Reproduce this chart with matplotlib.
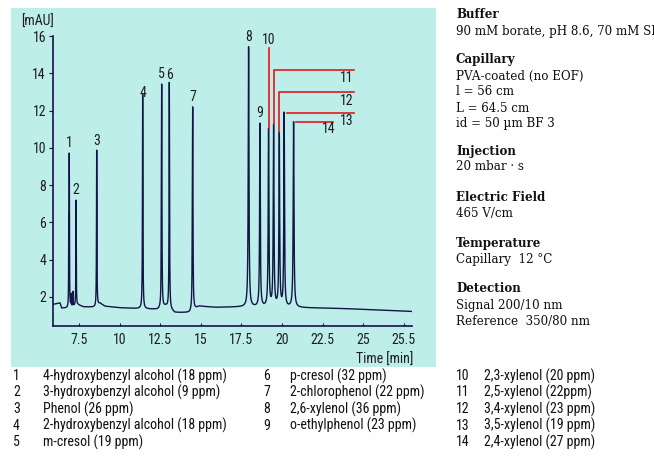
import numpy as np
import matplotlib
matplotlib.use('Agg')
from matplotlib import pyplot as plt
from matplotlib import font_manager
from matplotlib.patches import Rectangle

# peaks: migration time [min], apex [mAU], width [min]
peak_ids = [1, 2, 3, 4, 5, 6, 7, 8, 9, 10, 11, 12, 13, 14]
peak_times = [6.90, 7.32, 8.59, 11.42, 12.59, 13.06, 14.50,
              17.94, 18.64, 19.17, 19.48, 19.83, 20.13, 20.71]
peak_apex = [9.72, 7.20, 9.85, 12.40, 13.42, 13.37, 12.19,
             15.43, 11.33, 11.06, 11.28, 10.85, 11.92, 11.41]
peak_width = [0.012, 0.012, 0.014, 0.016, 0.016, 0.016, 0.018,
              0.026, 0.024, 0.026, 0.026, 0.026, 0.024, 0.028]

# small side peaks / shoulders
minor_times = [6.87, 7.02, 7.13, 8.57, 11.40, 12.565, 12.62, 13.09, 14.475]
minor_apex = [6.5, 2.2, 2.3, 4.1, 3.5, 7.9, 4.2, 3.0, 9.5]
minor_width = [0.008, 0.010, 0.010, 0.010, 0.010, 0.008, 0.010, 0.012, 0.008]

# baseline
base_t = [5.90, 6.33, 6.43, 6.82, 7.46, 7.76, 8.50, 8.80, 9.10, 10.0, 11.0,
          11.75, 12.35, 12.85, 13.40, 14.30, 14.90, 15.90, 17.40, 21.10,
          23.60, 26.00, 28.00]
base_v = [1.60, 1.68, 1.40, 1.40, 1.57, 1.47, 1.45, 1.65, 1.50, 1.42, 1.38,
          1.35, 1.33, 1.50, 1.16, 1.16, 1.50, 1.44, 1.46, 1.42,
          1.38, 1.30, 1.22]

xticks = [7.5, 10, 12.5, 15, 17.5, 20, 22.5, 25, 27.5]
xtick_labels = ['7.5', '10', '12.5', '15', '17.5', '20', '22.5', '25', '25.5']
yticks = [2, 4, 6, 8, 10, 12, 14, 16]

compounds = ['4-hydroxybenzyl alcohol (18 ppm)', '3-hydroxybenzyl alcohol (9 ppm)',
             'Phenol (26 ppm)', '2-hydroxybenzyl alcohol (18 ppm)', 'm-cresol (19 ppm)',
             'p-cresol (32 ppm)', '2-chlorophenol (22 ppm)', '2,6-xylenol (36 ppm)',
             'o-ethylphenol (23 ppm)', '2,3-xylenol (20 ppm)', '2,5-xylenol (22ppm)',
             '3,4-xylenol (23 ppm)', '3,5-xylenol (19 ppm)', '2,4-xylenol (27 ppm)']

conditions = [('Buffer', ['90 mM borate, pH 8.6, 70 mM SDS']),
              ('Capillary', ['PVA-coated (no EOF)', 'l = 56 cm', 'L = 64.5 cm',
                             'id = 50 \u00b5m BF 3']),
              ('Injection', ['20 mbar \u00b7 s']),
              ('Electric Field', ['465 V/cm']),
              ('Temperature', ['Capillary  12 \u00b0C']),
              ('Detection', ['Signal 200/10 nm', 'Reference  350/80 nm'])]

# pick a narrow sans if one is installed
names = {(f.name, f.stretch) for f in font_manager.fontManager.ttflist}
fam_names = {n for n, s in names}
NARROW = dict(family=['Liberation Sans', 'DejaVu Sans'], fontsize=8.8)
if 'Liberation Sans Narrow' in fam_names:
    NARROW = dict(family=['Liberation Sans Narrow', 'DejaVu Sans'], fontsize=10)
elif 'Roboto Condensed' in fam_names:
    NARROW = dict(family=['Roboto Condensed', 'DejaVu Sans'], fontsize=10)
elif ('DejaVu Sans', 'condensed') in names or ('DejaVu Sans', 'semi-condensed') in names:
    NARROW = dict(family=['DejaVu Sans'], fontstretch='condensed', fontsize=9.4)

SERIF = ['DejaVu Serif']
INK = '#141446'
RED = '#e3161d'
TXT = '#1e1e1e'

W, H = 654, 467
fig = plt.figure(figsize=(W / 100, H / 100), dpi=100)


def fx(px):
    return px / W


def fy(py):
    return 1 - py / H


fig.patches.append(Rectangle((fx(11), fy(367)), fx(436) - fx(11), fy(7.5) - fy(367),
                             transform=fig.transFigure, facecolor='#bdeeea',
                             edgecolor='none', zorder=-10))

ax = fig.add_axes([fx(53), fy(326), fx(412) - fx(53), fy(36) - fy(326)])
ax.patch.set_visible(False)

# Lorentzian peaks; amplitudes solved so the trace passes through the read apexes
all_t = np.array(peak_times + minor_times)
all_h = np.array(peak_apex + minor_apex)
all_w = np.array(peak_width + minor_width)


def shape(x, tc, w):
    return w ** 2 / ((x - tc) ** 2 + w ** 2)


A = shape(all_t[:, None], all_t[None, :], all_w[None, :])
amps = np.linalg.solve(A, all_h - np.interp(all_t, base_t, base_v))
amps = np.clip(amps, 0, None)

t = np.linspace(5.9, 28.0, 30000)
signal = np.interp(t, base_t, base_v)
for tc, a, w in zip(all_t, amps, all_w):
    signal = signal + a * shape(t, tc, w)
ax.plot(t, signal, color=INK, lw=1.0)

ax.set_xlim(5.9, 28.0)
ax.set_ylim(0.44, 16)
for s in ['top', 'right']:
    ax.spines[s].set_visible(False)
for s in ['left', 'bottom']:
    ax.spines[s].set_color(INK)
    ax.spines[s].set_linewidth(1.2)
ax.set_xticks(xticks)
ax.set_xticklabels(xtick_labels)
ax.set_yticks(yticks)
ax.tick_params(axis='x', direction='in', length=2.5, pad=5, color=INK)
ax.tick_params(axis='y', direction='out', length=3, pad=2, color=INK)
for lab in ax.get_xticklabels() + ax.get_yticklabels():
    lab.update(NARROW)
    lab.set_color(TXT)

# peak numbers 1-9
for pid, tc, ap in zip(peak_ids[:9], peak_times[:9], peak_apex[:9]):
    ax.annotate(str(pid), (tc, ap), xytext=(0, 2), textcoords='offset points',
                ha='center', va='bottom', color=TXT, **NARROW)

# peak numbers 10-14 with red leader lines
ax.plot([peak_times[9]] * 2, [peak_apex[9], 15.36], color=RED, lw=1.2)
ax.text(peak_times[9], 15.42, '10', ha='center', va='bottom', color=TXT, **NARROW)
leaders = [(10, 14.20, 24.4, 13.75), (11, 12.97, 24.4, 12.53)]
for i, ly, xe, ty in leaders:
    ax.plot([peak_times[i], peak_times[i], xe], [peak_apex[i], ly, ly], color=RED, lw=1.2)
    ax.text(xe, ty, str(peak_ids[i]), ha='right', va='center', color=TXT, **NARROW)
ax.plot([20.32, 24.4], [11.85, 11.85], color=RED, lw=1.2)
ax.text(24.4, 11.45, '13', ha='right', va='center', color=TXT, **NARROW)
ax.plot([20.85, 23.13], [11.41, 11.41], color=RED, lw=1.2)
ax.text(23.3, 11.0, '14', ha='right', va='center', color=TXT, **NARROW)

fig.text(fx(38), fy(22), '[mAU]', ha='center', va='center', color=TXT, **NARROW)
fig.text(fx(413), fy(360), 'Time [min]', ha='right', va='center', color=TXT, **NARROW)

# compound list
cols = [(13, 43, 0, 5), (263, 290, 5, 9), (456, 484, 9, 14)]
for nx, tx, a, b in cols:
    for r, k in enumerate(range(a, b)):
        y = fy(376 + 16.5 * r)
        fig.text(fx(nx), y, str(peak_ids[k]), ha='left', va='center', color='#111111',
                 **NARROW)
        fig.text(fx(tx), y, compounds[k], ha='left', va='center', color='#111111',
                 **NARROW)

# conditions block
heads_y = [15, 60, 151, 197, 243, 289]
for (head, lines), hy in zip(conditions, heads_y):
    fig.text(fx(456), fy(hy), head, ha='left', va='center', family=SERIF,
             fontweight='bold', fontsize=8.6, color='#111111')
    for j, line in enumerate(lines):
        fig.text(fx(456), fy(hy + 16 * (j + 1)), line, ha='left', va='center',
                 family=SERIF, fontsize=8.6, color='#111111')

fig.savefig('out.png', dpi=100)
